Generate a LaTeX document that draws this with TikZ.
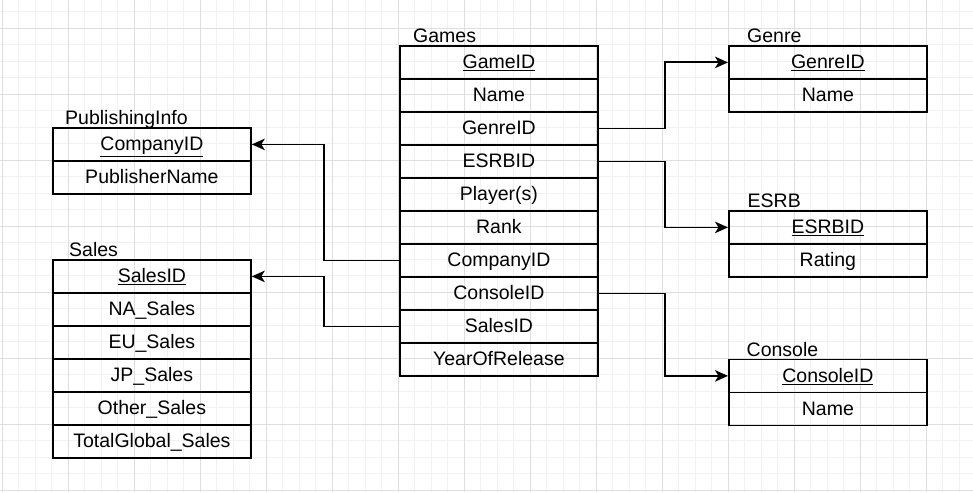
\documentclass[tikz,border=0pt]{standalone}
\usepackage{fontspec}
\setmainfont{Liberation Sans}
\usetikzlibrary{arrows.meta}
\definecolor{gridminor}{HTML}{F1F1F1}
\definecolor{gridmajor}{HTML}{DEDEDE}
\tikzset{
  row/.style={draw=black, line width=1.8pt, minimum width=198pt, minimum height=33pt,
    inner sep=0pt, text height=15pt, text depth=2pt, anchor=north west,
    font=\fontsize{19.5}{23}\selectfont},
  title/.style={anchor=base west, inner sep=0pt, font=\fontsize{19.5}{23}\selectfont},
  conn/.style={draw=black, line width=1.8pt, -{Stealth[length=13pt, width=11.5pt, inset=3.5pt]}},
}
\begin{document}
\begin{tikzpicture}[x=1pt, y=-1pt]
\useasboundingbox (0,0) rectangle (973,492);
\fill[white] (0,0) rectangle (973,492);
% grid
\foreach \k in {0,...,58} \draw[gridminor, line width=1pt] (2.3+16.5*\k,0) -- (2.3+16.5*\k,492);
\foreach \k in {0,...,29} \draw[gridminor, line width=1pt] (0,11.8+16.5*\k) -- (973,11.8+16.5*\k);
\foreach \k in {0,...,14} \draw[gridmajor, line width=1pt] (2.3+66*\k,0) -- (2.3+66*\k,492);
\foreach \k in {0,...,7} \draw[gridmajor, line width=1pt] (0,28.3+66*\k) -- (973,28.3+66*\k);

% Games
\node[title] (tGames) at (413,42.5) {Games};
\node[row] (gGameID) at (399,45) {\underline{GameID}};
\node[row] (gName) at (399,78) {Name};
\node[row] (gGenreID) at (399,111) {GenreID};
\node[row] (gESRBID) at (399,144) {ESRBID};
\node[row] (gPlayers) at (399,177) {Player(s)};
\node[row] (gRank) at (399,210) {Rank};
\node[row] (gCompanyID) at (399,243) {CompanyID};
\node[row] (gConsoleID) at (399,276) {ConsoleID};
\node[row] (gSalesID) at (399,309) {SalesID};
\node[row] (gYear) at (399,342) {YearOfRelease};

% Genre
\node[title] (tGenre) at (747,42.5) {Genre};
\node[row] (genGenreID) at (728,45) {\underline{GenreID}};
\node[row] (genName) at (728,78) {Name};

% ESRB
\node[title] (tESRB) at (747.5,207.5) {ESRB};
\node[row] (esrbID) at (728,210) {\underline{ESRBID}};
\node[row] (esrbRating) at (728,243) {Rating};

% Console
\node[title] (tConsole) at (746.5,356) {Console};
\node[row] (conID) at (728,358.5) {\underline{ConsoleID}};
\node[row] (conName) at (728,391.5) {Name};

% PublishingInfo
\node[title] (tPub) at (65,124.5) {PublishingInfo};
\node[row] (pubCompanyID) at (52,127) {\underline{CompanyID}};
\node[row] (pubName) at (52,160) {PublisherName};

% Sales
\node[title] (tSales) at (69,256.5) {Sales};
\node[row] (sID) at (52,259) {\underline{SalesID}};
\node[row] (sNA) at (52,292) {NA\_Sales};
\node[row] (sEU) at (52,325) {EU\_Sales};
\node[row] (sJP) at (52,358) {JP\_Sales};
\node[row] (sOther) at (52,391) {Other\_Sales};
\node[row] (sTotal) at (52,424) {TotalGlobal\_Sales};

% connectors
\draw[conn] (gGenreID.east) -- ++(66,0) |- (genGenreID.west);
\draw[conn] (gESRBID.east) -- ++(66,0) |- (esrbID.west);
\draw[conn] (gConsoleID.east) -- ++(66,0) |- (conID.west);
\draw[conn] (gCompanyID.west) -- ++(-75,0) |- (pubCompanyID.east);
\draw[conn] (gSalesID.west) -- ++(-75,0) |- (sID.east);
\end{tikzpicture}
\end{document}
